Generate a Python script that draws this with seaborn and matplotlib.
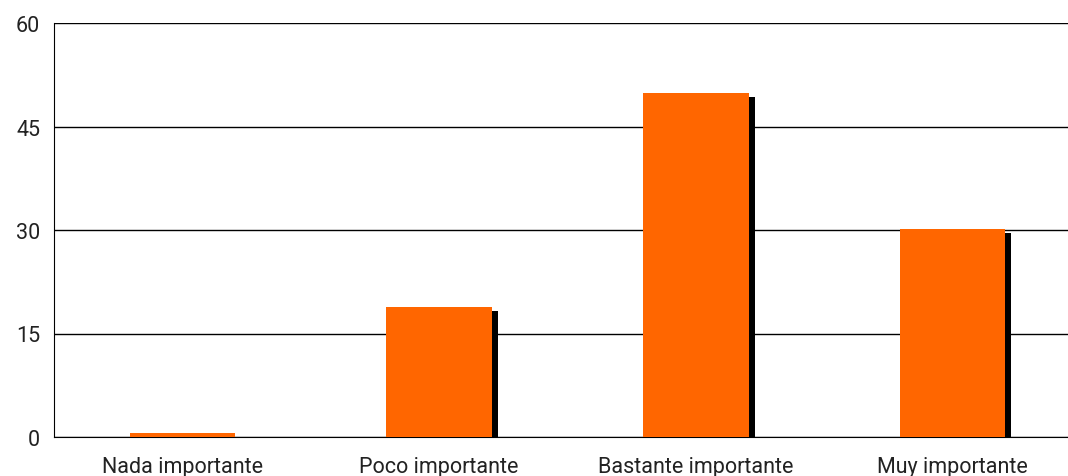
import pandas as pd
import matplotlib.pyplot as plt
import matplotlib.transforms as mtransforms
import seaborn as sns

# Data
categorias = ["Nada importante", "Poco importante", "Bastante importante", "Muy importante"]
valores = [0.6, 18.9, 49.9, 30.2]
y_ticks = [0, 15, 30, 45, 60]

df = pd.DataFrame({"categoria": categorias, "valor": valores})

sns.set_style("white")
plt.rcParams["font.family"] = ["Roboto", "DejaVu Sans"]

fig = plt.figure(figsize=(10.68, 4.77), dpi=100)
# the plot area runs a little past the right edge of the image
ax = fig.add_axes([54 / 1068, 1 - 438 / 477, (1081 - 54) / 1068, (438 - 24) / 477])

# shadow bars first (black, offset right/down)
sns.barplot(data=df, x="categoria", y="valor", color="black", width=0.41,
            saturation=1, linewidth=0, ax=ax, zorder=2)
n_shadow = len(ax.patches)
shift = mtransforms.offset_copy(ax.transData, fig=fig, x=6, y=-4, units="dots")
for p in ax.patches[:n_shadow]:
    p.set_transform(shift)

# main orange bars
sns.barplot(data=df, x="categoria", y="valor", color="#FF6600", width=0.41,
            saturation=1, linewidth=0, ax=ax, zorder=3)

ax.set_ylim(0, 60)
ax.set_xlim(-0.5, 3.5)
ax.set_yticks(y_ticks)
ax.set_yticklabels([str(t) for t in y_ticks], fontsize=15.5, color="#222222")
ax.yaxis.grid(True, color="black", linewidth=1)
ax.set_axisbelow(True)

# category labels centered, ticks at boundaries
ax.set_xticks([0.5, 1.5, 2.5])
ax.set_xticklabels([])
ax.tick_params(axis="x", length=5, width=1, color="#888888", direction="out")
ax.tick_params(axis="y", length=5, width=1, color="black", direction="out", pad=5)
for i, c in enumerate(categorias):
    ax.text(i, -4.25, c, ha="center", va="center", fontsize=15.5, color="#222222")

ax.set_xlabel("")
ax.set_ylabel("")
for s in ["top", "right"]:
    ax.spines[s].set_visible(False)
ax.spines["left"].set_color("black")
ax.spines["bottom"].set_color("black")

fig.savefig("out.png", dpi=100)
